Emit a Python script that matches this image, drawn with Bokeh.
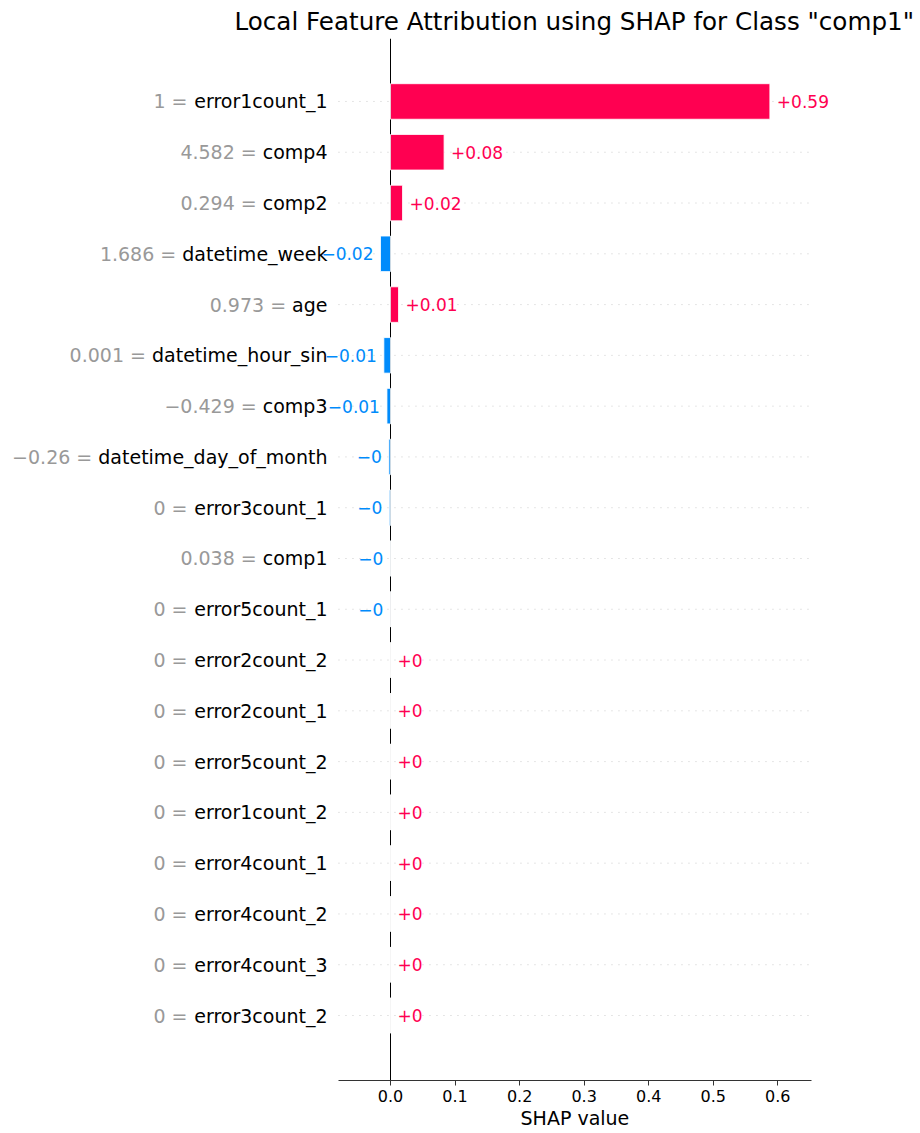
import re
from bokeh.plotting import figure
from bokeh.models import (ColumnDataSource, Range1d, FixedTicker, PrintfTickFormatter,
                          Span, LabelSet, Title)
from bokeh.core.properties import value
from bokeh.embed import file_html
from bokeh.resources import INLINE

# ---------------- data ----------------
features = ["error1count_1", "comp4", "comp2", "datetime_week", "age",
            "datetime_hour_sin", "comp3", "datetime_day_of_month", "error3count_1",
            "comp1", "error5count_1", "error2count_2", "error2count_1", "error5count_2",
            "error1count_2", "error4count_1", "error4count_2", "error4count_3",
            "error3count_2"]
feature_values = [1, 4.582, 0.294, 1.686, 0.973, 0.001, -0.429, -0.26, 0, 0.038, 0,
                  0, 0, 0, 0, 0, 0, 0, 0]
shap_values = [0.5877, 0.083, 0.0186, -0.0155, 0.0124, -0.0103, -0.0055, -0.0025,
               -0.0018, -0.0004, -0.0003, 0.0, 0.0, 0.0, 0.0, 0.0, 0.0, 0.0, 0.0]
x_ticks = [0.0, 0.1, 0.2, 0.3, 0.4, 0.5, 0.6]
x_limits = (-0.0806, 0.652)
title_text = 'Local Feature Attribution using SHAP for Class "comp1"'
x_label = "SHAP value"

# ---------------- styling ----------------
FONT = "DejaVu Sans"
RED = "#ff0051"
BLUE = "#008bfb"
NAME_PX = 19
VAL_PX = 17
TITLE_PX = 24.6
XLABEL_PX = 19
W, H = 920, 1133
ZERO_PX = 390.0          # canvas x of 0.0
PX_PER_UNIT = 645.5      # pixels per SHAP unit

# DejaVu Sans advance widths (units per em = 2048), used to place texts
ADV = {" ": 651, ".": 651, "_": 1024, "=": 1716, "a": 1255, "b": 1300, "c": 1126,
       "d": 1300, "e": 1260, "f": 721, "g": 1300, "h": 1298, "i": 569, "j": 569,
       "k": 1186, "l": 569, "m": 1995, "n": 1298, "o": 1253, "p": 1300, "q": 1300,
       "r": 842, "s": 1067, "t": 803, "u": 1298, "v": 1212, "w": 1675, "x": 1212,
       "y": 1212, "z": 1075, "S": 1300, "H": 1540, "A": 1401, "P": 1235}
for d in "0123456789":
    ADV[d] = 1303


def text_width(s, px):
    return sum(ADV.get(c, 1250) for c in s) * px / 2048.0


def fmt(v, f):
    s = f % v
    s = re.sub(r"\.?0+$", "", s)
    return s.replace("-", "\u2212")


def to_px(x):
    return ZERO_PX + x * PX_PER_UNIT


n = len(features)
rows = list(range(n))
LABEL_X = 327  # screen px (frame starts at canvas left)

name_src = ColumnDataSource(dict(y=rows, text=features, x=[LABEL_X] * n))
gray_src = ColumnDataSource(dict(
    y=rows,
    text=[fmt(v, "%0.03f") + " =" for v in feature_values],
    x=[LABEL_X - text_width(f, NAME_PX) - text_width(" ", NAME_PX) for f in features]))

colors = [RED if v >= 0 else BLUE for v in shap_values]
bar_src = ColumnDataSource(dict(y=rows, right=shap_values, color=colors))
grid_src = ColumnDataSource(dict(y=rows, x0=[x_limits[0]] * n, x1=[x_limits[1]] * n))

pos_idx = [i for i, v in enumerate(shap_values) if v >= 0]
neg_idx = [i for i, v in enumerate(shap_values) if v < 0]
pos_src = ColumnDataSource(dict(y=[rows[i] for i in pos_idx],
                                x=[shap_values[i] for i in pos_idx],
                                text=[fmt(shap_values[i], "%+0.02f") for i in pos_idx]))
neg_src = ColumnDataSource(dict(y=[rows[i] for i in neg_idx],
                                x=[shap_values[i] for i in neg_idx],
                                text=[fmt(shap_values[i], "%+0.02f") for i in neg_idx]))

x_start = -ZERO_PX / PX_PER_UNIT
x_end = (W - ZERO_PX) / PX_PER_UNIT
axes_center_px = (to_px(x_limits[0]) + to_px(x_limits[1])) / 2

p = figure(width=W, height=H, output_backend="svg", toolbar_location=None,
           x_range=Range1d(x_start, x_end), y_range=Range1d(n - 1 + 1.28, -1.24),
           min_border_left=0, min_border_right=0, min_border_top=38,
           min_border_bottom=53)
p.background_fill_color = "white"
p.border_fill_color = "white"
p.outline_line_color = None

# title, placed over the axes area (matplotlib style)
p.title.text = title_text
p.title.align = "left"
p.title.offset = 234
p.title.text_font = FONT
p.title.text_font_size = f"{TITLE_PX}px"
p.title.text_font_style = "normal"
p.title.text_color = "#000000"
p.title.standoff = 5

# grid
p.xgrid.visible = False
p.ygrid.visible = False
p.yaxis.visible = False
p.segment(x0="x0", x1="x1", y0="y", y1="y", source=grid_src,
          line_color="#cccccc", line_width=1, line_dash="1 6", level="underlay")

# x axis
ax = p.xaxis[0]
ax.bounds = x_limits
ax.ticker = FixedTicker(ticks=x_ticks)
ax.formatter = PrintfTickFormatter(format="%.1f")
ax.major_label_text_font = FONT
ax.major_label_text_font_size = "16px"
ax.major_label_text_color = "#000000"
ax.major_label_standoff = 4
ax.major_tick_in = 0
ax.major_tick_out = 5
ax.minor_tick_line_color = None
ax.axis_line_color = "#333333"
ax.major_tick_line_color = "#333333"

# x axis label, centred under the axis line
p.add_layout(Title(text=x_label, align="left",
                   offset=axes_center_px - text_width(x_label, XLABEL_PX) / 2,
                   text_font=FONT, text_font_size=f"{XLABEL_PX}px",
                   text_font_style="normal", text_color="#000000", standoff=0),
             "below")

# zero line (beneath bars)
p.add_layout(Span(location=0, dimension="height", line_color="#000000",
                  line_width=1, level="underlay"))

p.hbar(y="y", left=0, right="right", height=0.7, source=bar_src,
       fill_color="color", line_color="white", line_alpha=0.8, line_width=1)

p.add_layout(LabelSet(x="x", y="y", text="text", source=pos_src, x_offset=7,
                      text_align="left", text_baseline="middle",
                      text_font=value(FONT), text_font_size=f"{VAL_PX}px",
                      text_color=RED))
p.add_layout(LabelSet(x="x", y="y", text="text", source=neg_src, x_offset=-7,
                      text_align="right", text_baseline="middle",
                      text_font=value(FONT), text_font_size=f"{VAL_PX}px",
                      text_color=BLUE))

p.add_layout(LabelSet(x="x", y="y", text="text", source=name_src, x_units="screen",
                      text_align="right", text_baseline="middle",
                      text_font=value(FONT), text_font_size=f"{NAME_PX}px",
                      text_color="#000000"))
p.add_layout(LabelSet(x="x", y="y", text="text", source=gray_src, x_units="screen",
                      text_align="right", text_baseline="middle",
                      text_font=value(FONT), text_font_size=f"{NAME_PX}px",
                      text_color="#999999"))

open("out.html", "w").write(file_html(p, INLINE))
